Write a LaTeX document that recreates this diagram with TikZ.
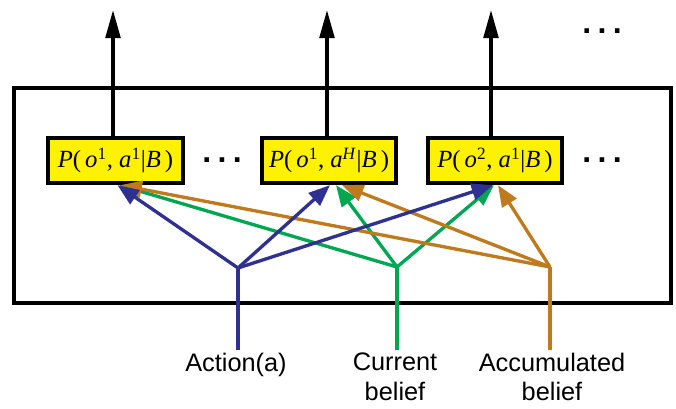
\documentclass[tikz,border=0pt]{standalone}
\usepackage{fontspec}
\setmainfont{Liberation Sans}
\newfontfamily\tnr{Liberation Serif}
\usetikzlibrary{arrows.meta,calc}
\definecolor{cblue}{RGB}{46,49,146}
\definecolor{cgreen}{RGB}{0,166,81}
\definecolor{cbrown}{RGB}{192,122,30}
\definecolor{cyel}{RGB}{255,242,0}
\begin{document}
\begin{tikzpicture}[x=0.75pt,y=-0.75pt,
  prob/.style={draw=black,line width=3pt,fill=cyel,minimum width=101pt,minimum height=34pt,inner sep=0pt,font=\tnr\fontsize{18.5}{20}\selectfont},
  outarrow/.style={line width=2.6pt,-{Triangle[length=21pt,width=11pt]}},
  inarrow/.style={line width=2.5pt,-{Triangle[length=16pt,width=12.5pt]}},
  feed/.style={line width=2.5pt},
  lbl/.style={font=\fontsize{19}{22}\selectfont,align=center,inner sep=0pt,anchor=north},
  dotsty/.style={font=\fontsize{24}{24}\selectfont\bfseries,inner sep=0pt}]
\useasboundingbox (0,0) rectangle (676,408);
% container
\draw[line width=2.3pt] (14,88) rectangle (671,303);
% boxes
\node[prob] (b1) at (115.5,160.5) {\textit{P}(\,\textit{o}\textsuperscript{1}, \textit{a}\textsuperscript{1}|\textit{B}\,)};
\node[prob] (b2) at (329,160.5) {\textit{P}(\,\textit{o}\textsuperscript{1}, \textit{a}\textsuperscript{\textit{H}}|\textit{B}\,)};
\node[prob] (b3) at (495,160.5) {\textit{P}(\,\textit{o}\textsuperscript{2}, \textit{a}\textsuperscript{1}|\textit{B}\,)};
\node[dotsty] (d1) at (222,160) {.\hspace{0.2em}.\hspace{0.2em}.};
\node[dotsty] (d2) at (602,160) {.\hspace{0.2em}.\hspace{0.2em}.};
\node[dotsty] (d3) at (602,31) {.\hspace{0.2em}.\hspace{0.2em}.};
% outputs
\coordinate (t1) at (113,10);
\coordinate (t2) at (327,10);
\coordinate (t3) at (491,10);
\draw[outarrow] (b1.north -| t1) -- (t1);
\draw[outarrow] (b2.north -| t2) -- (t2);
\draw[outarrow] (b3.north -| t3) -- (t3);
% junctions and labels
\coordinate (ja) at (238,268);
\coordinate (jc) at (397,267);
\coordinate (jb) at (550,267);
\node[lbl] (la) at (236,353) {Action(a)};
\node[lbl] (lc) at (395,353) {Current\\belief};
\node[lbl] (lb) at (552,353) {Accumulated\\belief};
\draw[feed,cblue] (ja) -- ($(ja |- la.north)+(0,-3)$);
\draw[feed,cgreen] (jc) -- ($(jc |- lc.north)+(0,-3)$);
\draw[feed,cbrown] (jb) -- ($(jb |- lb.north)+(0,-3)$);
% green
\draw[inarrow,cgreen] (jc) -- ($(b1.south)+(4,0)$);
\draw[inarrow,cgreen] (jc) -- ($(b2.south)+(7,0)$);
\draw[inarrow,cgreen] (jc) -- ($(b3.south)+(-1,0)$);
% brown
\draw[inarrow,cbrown] (jb) -- ($(b1.south)+(5,0)$);
\draw[inarrow,cbrown] (jb) -- ($(b2.south)+(13,0)$);
\draw[inarrow,cbrown] (jb) -- ($(b3.south)+(3,0)$);
% blue
\draw[inarrow,cblue] (ja) -- ($(b1.south)+(2,0)$);
\draw[inarrow,cblue] (ja) -- ($(b2.south)+(1,0)$);
\draw[inarrow,cblue] (ja) -- ($(b3.south)+(-2,0)$);
\end{tikzpicture}
\end{document}
